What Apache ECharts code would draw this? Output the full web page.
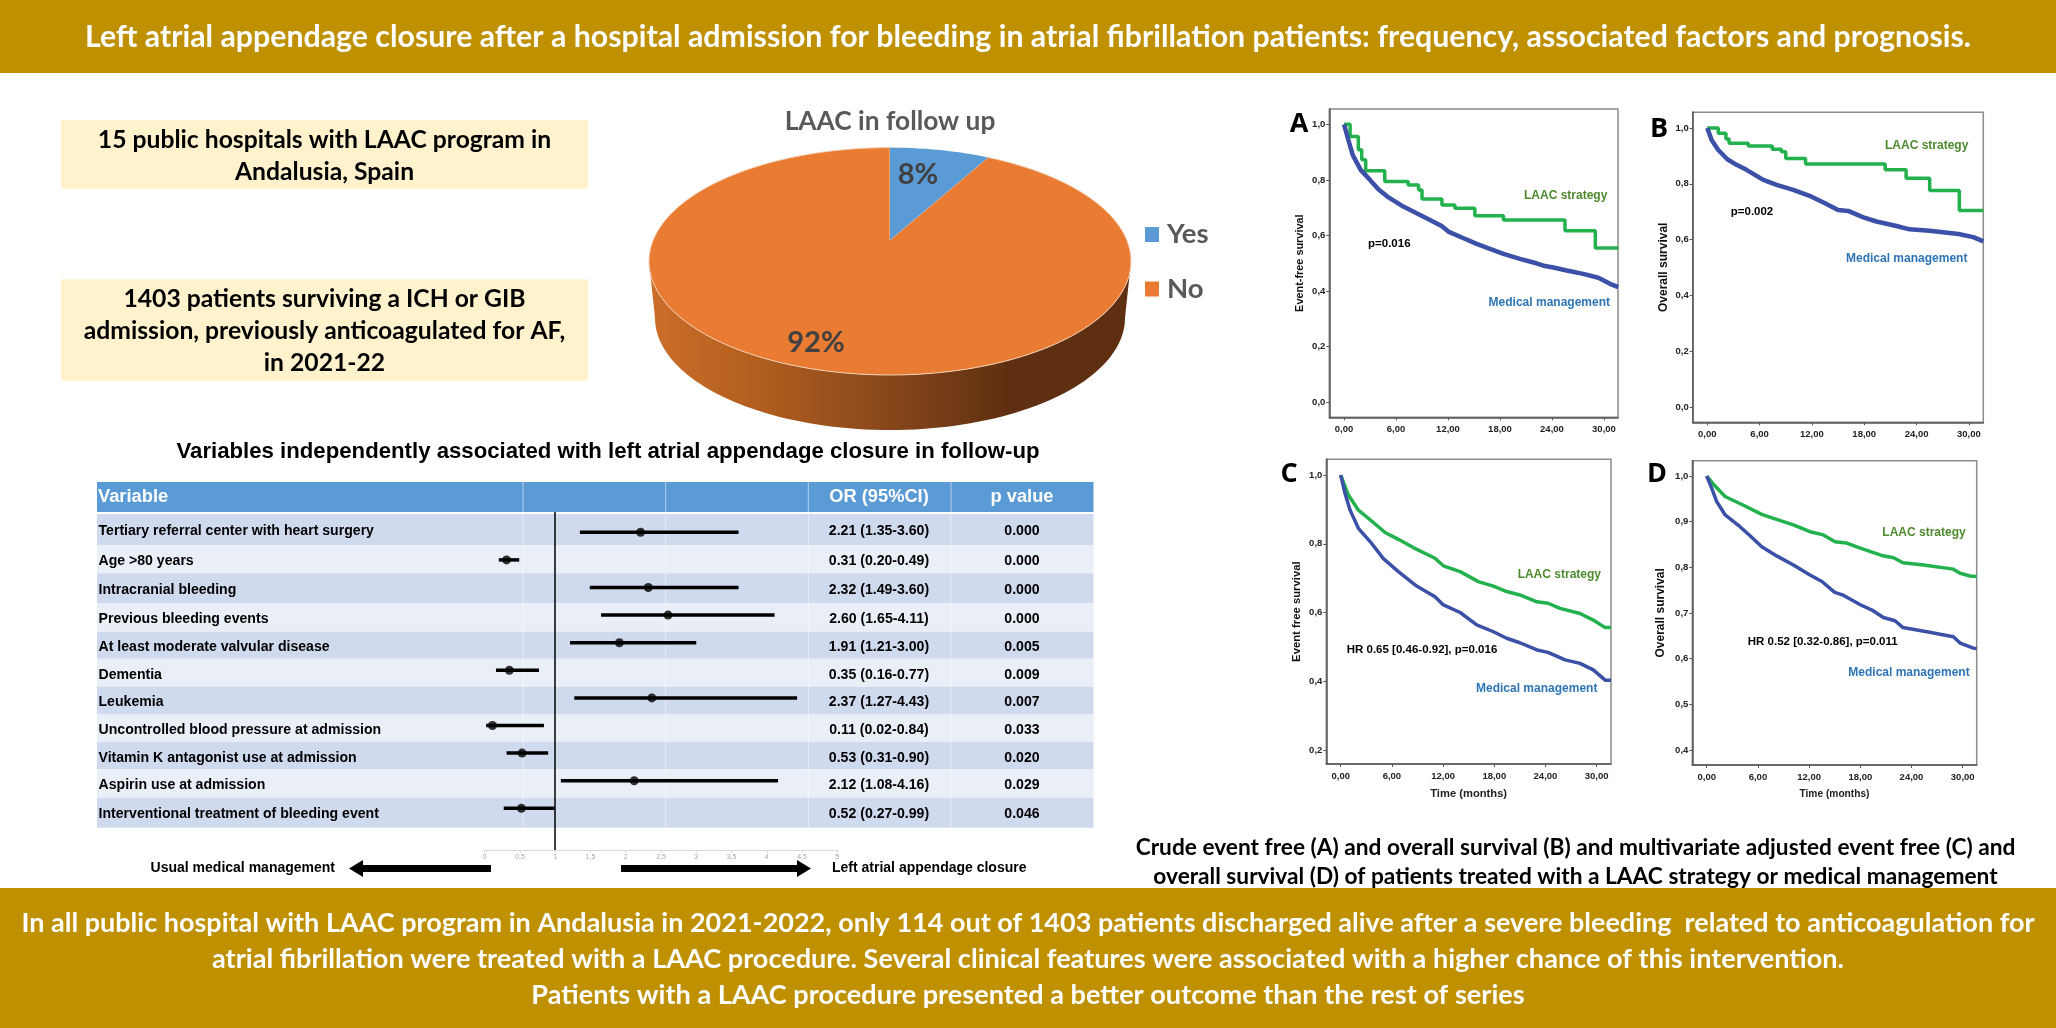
<!DOCTYPE html>
<html>
<head>
<meta charset="utf-8">
<title>LAAC after bleeding admission</title>
<script src="https://cdn.jsdelivr.net/npm/echarts@6/dist/echarts.min.js"></script>
<style>
  html, body { margin: 0; padding: 0; background: #fff; }
  #main { width: 2056px; height: 1028px; }
</style>
</head>
<body>
<div id="main"></div>
<script>
// pie
var pieNames = ['Yes', 'No'];
var pieValues = [8, 92];
var pieLabels = ['8%', '92%'];

// forest plot
var forestVariables = [
  'Tertiary referral center with heart surgery', 'Age >80 years', 'Intracranial bleeding',
  'Previous bleeding events', 'At least moderate valvular disease', 'Dementia', 'Leukemia',
  'Uncontrolled blood pressure at admission', 'Vitamin K antagonist use at admission',
  'Aspirin use at admission', 'Interventional treatment of bleeding event'
];
var forestOr = [2.21, 0.31, 2.32, 2.60, 1.91, 0.35, 2.37, 0.11, 0.53, 2.12, 0.52];
var forestLow = [1.35, 0.20, 1.49, 1.65, 1.21, 0.16, 1.27, 0.02, 0.31, 1.08, 0.27];
var forestHigh = [3.60, 0.49, 3.60, 4.11, 3.00, 0.77, 4.43, 0.84, 0.90, 4.16, 0.99];
var forestP = ['0.000', '0.000', '0.000', '0.000', '0.005', '0.009', '0.007', '0.033', '0.020', '0.029', '0.046'];

// survival curves, [months, survival]
var laacA = [[0,1],[0.7,0.956],[1.65,0.908],[2.04,0.872],[2.5,0.833],[4.7,0.794],[7.4,0.782],[8.6,0.764],[9,0.731],[11.3,0.71],[12.8,0.698],[15.1,0.671],[18.4,0.656],[25.5,0.617],[29,0.555],[31.65,0.555]];
var medA = [[0,1],[0.5,0.944],[1,0.89],[1.92,0.836],[3,0.8],[3.96,0.766],[5,0.74],[6.85,0.704],[8.38,0.68],[9.92,0.656],[11.27,0.634],[12.04,0.614],[13.8,0.59],[15.3,0.57],[16.85,0.552],[18.4,0.534],[20.3,0.516],[22.2,0.5],[23.2,0.49],[24.3,0.484],[25.7,0.474],[27.6,0.462],[29.35,0.448],[30.7,0.426],[31.65,0.414]];
var laacB = [[0,1],[1.26,0.981],[2.14,0.96],[2.5,0.945],[4.7,0.935],[7.45,0.924],[8.5,0.915],[9,0.891],[11.27,0.871],[20.4,0.85],[22.8,0.82],[25.5,0.776],[28.9,0.704],[31.65,0.704]];
var medB = [[0,1],[0.5,0.957],[1.26,0.921],[2.3,0.888],[3.36,0.868],[4.5,0.85],[5.46,0.832],[6.42,0.814],[7.95,0.796],[9.86,0.778],[11.96,0.754],[13.5,0.73],[15,0.706],[16.16,0.703],[17.9,0.68],[19.4,0.665],[21.7,0.649],[23.2,0.637],[25.5,0.632],[28.8,0.62],[30.5,0.609],[31.65,0.594]];
var laacC = [[0,1],[0.9,0.942],[2.07,0.898],[3.83,0.862],[5.2,0.833],[6.76,0.813],[8.5,0.789],[11.05,0.758],[12.03,0.736],[14,0.719],[16.13,0.69],[17.9,0.677],[19.45,0.661],[21,0.651],[23,0.631],[24.3,0.627],[25.7,0.612],[28.05,0.597],[29.6,0.578],[31,0.556],[31.68,0.556]];
var medC = [[0,1],[0.5,0.947],[1.1,0.898],[2.07,0.845],[3.63,0.801],[5,0.757],[6.76,0.719],[8.9,0.677],[11.05,0.646],[12.03,0.622],[14,0.6],[15.94,0.564],[17.9,0.544],[19.45,0.525],[21,0.512],[23,0.491],[24.3,0.484],[26.3,0.462],[28.05,0.452],[29.6,0.433],[31,0.403],[31.68,0.403]];
var laacD = [[0,1],[0.98,0.978],[2.15,0.955],[4.3,0.936],[6.45,0.916],[8,0.906],[10.16,0.893],[12.1,0.878],[13.67,0.871],[15.04,0.856],[16.4,0.853],[18,0.842],[20.5,0.826],[21.9,0.821],[23,0.81],[25.4,0.805],[28.9,0.796],[29.7,0.787],[30.86,0.781],[31.64,0.78]];
var medD = [[0,1],[0.59,0.973],[1.17,0.944],[2.15,0.915],[3.9,0.889],[5.08,0.869],[6.45,0.845],[8.2,0.825],[10.16,0.805],[12.1,0.783],[13.5,0.769],[15,0.745],[16,0.739],[18,0.718],[19.5,0.705],[20.7,0.69],[22.07,0.683],[23,0.668],[25.8,0.659],[28.9,0.648],[29.7,0.634],[31.25,0.623],[31.64,0.622]];

var monthTicks = [0, 6, 12, 18, 24, 30];
var yTicksAB = [0, 0.2, 0.4, 0.6, 0.8, 1];
var yTicksC = [0.2, 0.4, 0.6, 0.8, 1];
var yTicksD = [0.4, 0.5, 0.6, 0.7, 0.8, 0.9, 1];

var calibri = 'Lato, "Noto Sans", sans-serif';
var arial = '"Liberation Sans", Arial, sans-serif';
var GOLD = '#BF9000';
var GREEN = '#22B14C';
var BLUE = '#3B50A6';

var myChart = echarts.init(document.getElementById('main'));
var shapes = [];

function box(x, y, w, h, fill) {
  shapes.push({ type: 'rect', silent: true, z: 0, shape: { x: x, y: y, width: w, height: h }, style: { fill: fill } });
}
function txt(x, y, str, size, color, family, align, weight, rotation) {
  shapes.push({
    type: 'text', silent: true, z: 6, x: x, y: y, rotation: rotation || 0,
    style: {
      text: str, fill: color, align: align || 'center', verticalAlign: 'middle',
      font: (weight || 'bold') + ' ' + size + 'px ' + family
    }
  });
}

// banners
box(0, 0, 2056, 73, GOLD);
box(0, 888, 2056, 140, GOLD);
txt(1028, 37.5, 'Left atrial appendage closure after a hospital admission for bleeding in atrial fibrillation patients: frequency, associated factors and prognosis.', 30.3, '#fff', calibri);
txt(1028, 923.5, 'In all public hospital with LAAC program in Andalusia in 2021-2022, only 114 out of 1403 patients discharged alive after a severe bleeding  related to anticoagulation for', 27, '#fff', calibri);
txt(1028, 959.5, 'atrial fibrillation were treated with a LAAC procedure. Several clinical features were associated with a higher chance of this intervention.', 27.1, '#fff', calibri);
txt(1028, 995, 'Patients with a LAAC procedure presented a better outcome than the rest of series', 27.1, '#fff', calibri);

// yellow boxes
box(61, 120, 527, 68.7, '#FFF2CC');
box(61, 279.3, 527, 101.4, '#FFF2CC');
txt(324.5, 140, '15 public hospitals with LAAC program in', 24.7, '#000', calibri);
txt(324.5, 171.7, 'Andalusia, Spain', 24.7, '#000', calibri);
txt(324.5, 299.3, '1403 patients surviving a ICH or GIB', 24.7, '#000', calibri);
txt(324.5, 331, 'admission, previously anticoagulated for AF,', 24.7, '#000', calibri);
txt(324.5, 362.7, 'in 2021-22', 24.7, '#000', calibri);

// pie title
txt(890, 121.7, 'LAAC in follow up', 26.3, '#595959', calibri);

// forest table
var bandTops = [514, 545, 573.3, 603, 631.7, 658.7, 686.7, 714, 742, 769.3, 797.7];
var bandBottom = 827.7;
var textRows = [531, 560.7, 590, 619.3, 647, 674.7, 702, 730, 757.7, 785.3, 814.3];
txt(608, 452, 'Variables independently associated with left atrial appendage closure in follow-up', 22.2, '#000', arial);
box(97, 482, 996.5, 30, '#5B9BD5');
for (var i = 0; i < forestVariables.length; i++) {
  var nextTop = i + 1 < bandTops.length ? bandTops[i + 1] : bandBottom;
  box(97, bandTops[i], 996.5, nextTop - bandTops[i], i % 2 === 0 ? '#CFDAEE' : '#E9EEF7');
  txt(98.5, textRows[i], forestVariables[i], 14.1, '#000', arial, 'left');
  txt(879, textRows[i], forestOr[i].toFixed(2) + ' (' + forestLow[i].toFixed(2) + '-' + forestHigh[i].toFixed(2) + ')', 14.1, '#000', arial);
  txt(1022, textRows[i], forestP[i], 14.1, '#000', arial);
}
[523, 665.7, 808.3, 951].forEach(function (x) {
  shapes.push({ type: 'line', silent: true, z: 1, shape: { x1: x, y1: 482, x2: x, y2: bandBottom }, style: { stroke: 'rgba(255,255,255,0.55)', lineWidth: 1 } });
});
txt(98, 497, 'Variable', 18.3, '#fff', arial, 'left');
txt(879, 497, 'OR (95%CI)', 18.3, '#fff', arial);
txt(1022, 497, 'p value', 18.3, '#fff', arial);

// arrows under the forest plot
shapes.push({ type: 'polygon', silent: true, z: 1, shape: { points: [[491,865],[363,865],[363,860],[349,868.5],[363,877],[363,872],[491,872]] }, style: { fill: '#000' } });
shapes.push({ type: 'polygon', silent: true, z: 1, shape: { points: [[621,865],[797,865],[797,860],[811,868.5],[797,877],[797,872],[621,872]] }, style: { fill: '#000' } });
txt(335, 868, 'Usual medical management', 14, '#000', arial, 'right');
txt(832, 868, 'Left atrial appendage closure', 14, '#000', arial, 'left');

// caption of the survival panels
txt(1575.5, 848, 'Crude event free (A) and overall survival (B) and multivariate adjusted event free (C) and', 22.7, '#000', calibri);
txt(1575.5, 877, 'overall survival (D) of patients treated with a LAAC strategy or medical management', 22.7, '#000', calibri);

// panel letters and notes
var LETTER = '"Open Sans", sans-serif';
txt(1299, 124, 'A', 27, '#000', LETTER);
txt(1659, 129, 'B', 27, '#000', LETTER);
txt(1289, 474, 'C', 27, '#000', LETTER);
txt(1657, 474, 'D', 27, '#000', LETTER);
var NOTE_GREEN = '#4E8A2E';
var NOTE_BLUE = '#2E75B6';
txt(1565.7, 195.3, 'LAAC strategy', 12, NOTE_GREEN, arial);
txt(1549.3, 303, 'Medical management', 12, NOTE_BLUE, arial);
txt(1389.3, 243.7, 'p=0.016', 11.5, '#000', arial);
txt(1926.7, 146, 'LAAC strategy', 12, NOTE_GREEN, arial);
txt(1906.7, 258.3, 'Medical management', 12, NOTE_BLUE, arial);
txt(1752, 211.7, 'p=0.002', 11.5, '#000', arial);
txt(1559.3, 575, 'LAAC strategy', 12, NOTE_GREEN, arial);
txt(1536.7, 689, 'Medical management', 12, NOTE_BLUE, arial);
txt(1422, 650, 'HR 0.65 [0.46-0.92], p=0.016', 11.5, '#000', arial);
txt(1924, 532.3, 'LAAC strategy', 12, NOTE_GREEN, arial);
txt(1909, 672.3, 'Medical management', 12, NOTE_BLUE, arial);
txt(1822.7, 642.3, 'HR 0.52 [0.32-0.86], p=0.011', 11.5, '#000', arial);

// tilted pie: slices are mapped on an ellipse with the apex moved towards the viewer
var PIE = { cx: 890, cy: 261.3, rx: 241, ry: 113.7, apex: 0.187 };
var pieTotal = pieValues[0] + pieValues[1];
function piePoint(t) {
  var u = Math.sin(t), v = Math.cos(t), d = 1 + PIE.apex * v;
  return [PIE.cx + PIE.rx * u * Math.sqrt(1 - PIE.apex * PIE.apex) / d, PIE.cy - PIE.ry * (v + PIE.apex) / d];
}
function slicePoints(startShare, share) {
  var pts = [[PIE.cx, PIE.cy - PIE.ry * PIE.apex]];
  var steps = Math.max(8, Math.round(share * 180));
  for (var k = 0; k <= steps; k++) {
    pts.push(piePoint((startShare + share * k / steps) * 2 * Math.PI));
  }
  return pts;
}
function wallPoints() {
  var pts = [], k, a;
  for (k = 0; k <= 90; k++) {
    a = Math.PI * k / 90;
    pts.push([PIE.cx + PIE.rx * Math.cos(a), PIE.cy + PIE.ry * Math.sin(a)]);
  }
  for (k = 90; k >= 0; k--) {
    a = Math.PI * k / 90;
    pts.push([PIE.cx + 235 * Math.cos(a), 318 + 112 * Math.sin(a)]);
  }
  return pts;
}
var wallFill = new echarts.graphic.LinearGradient(0, 0, 1, 0, [
  { offset: 0, color: '#CC6E2A' },
  { offset: 0.2, color: '#B5601F' },
  { offset: 0.5, color: '#87471B' },
  { offset: 0.75, color: '#5E2F10' },
  { offset: 1, color: '#5E2F10' }
]);
function renderPie(params, api) {
  var idx = params.seriesIndex;
  var share = api.value(0) / pieTotal;
  var start = idx === 0 ? 0 : pieValues[0] / pieTotal;
  var children = [];
  if (idx === 1) {
    children.push({ type: 'polygon', shape: { points: wallPoints() }, style: { fill: wallFill } });
  }
  children.push({
    type: 'polygon', shape: { points: slicePoints(start, share) },
    style: { fill: api.visual('color'), stroke: idx === 1 ? '#F2CFB2' : null, lineWidth: 1 }
  });
  children.push({
    type: 'text', x: idx === 0 ? 918 : 816, y: idx === 0 ? 175 : 343,
    style: { text: pieLabels[idx], fill: '#404040', align: 'center', verticalAlign: 'middle', font: 'bold 29px ' + calibri }
  });
  return { type: 'group', children: children };
}

// grids: forest first, then the four survival panels
var grids = [{ left: 484.7, top: 512, width: 352.6, height: 338 }];
var xAxes = [{
  type: 'value', gridIndex: 0, min: 0, max: 5, interval: 0.5,
  axisLine: { onZero: false, lineStyle: { color: '#d9d9d9', width: 1 } },
  axisTick: { length: 3, lineStyle: { color: '#d9d9d9' } },
  axisLabel: { fontSize: 7, color: '#a6a6a6', margin: 4, fontFamily: arial, formatter: function (v) { return String(v).replace('.', ','); } },
  splitLine: { show: false }
}];
var yAxes = [{ type: 'value', gridIndex: 0, inverse: true, min: -0.735, max: 11.51, show: false, splitLine: { show: false } }];

var series = [
  { name: pieNames[0], type: 'custom', coordinateSystem: 'none', renderItem: renderPie, data: [[pieValues[0]]], itemStyle: { color: '#5B9BD5' }, silent: true, z: 4 },
  { name: pieNames[1], type: 'custom', coordinateSystem: 'none', renderItem: renderPie, data: [[pieValues[1]]], itemStyle: { color: '#E97B32' }, silent: true, z: 3 },
  {
    name: 'CI', type: 'custom', xAxisIndex: 0, yAxisIndex: 0, silent: true,
    data: forestLow.map(function (v, i) { return [v, forestHigh[i], i]; }),
    renderItem: function (params, api) {
      var a = api.coord([api.value(0), api.value(2)]);
      var b = api.coord([api.value(1), api.value(2)]);
      return { type: 'line', shape: { x1: a[0], y1: a[1], x2: b[0], y2: b[1] }, style: { stroke: '#000', lineWidth: 3.5 } };
    }
  },
  {
    name: 'OR', type: 'scatter', xAxisIndex: 0, yAxisIndex: 0, silent: true, symbolSize: 9,
    itemStyle: { color: '#000' },
    data: forestOr.map(function (v, i) { return [v, i]; }),
    markLine: { silent: true, symbol: 'none', label: { show: false }, lineStyle: { color: '#000', width: 1.5, type: 'solid' }, data: [{ xAxis: 1 }] }
  }
];

function addPanel(frame, xRange, yRange, yTicks, yName, yNameSize, nameGap, timeSize, blueWidth, laac, med) {
  var n = grids.length;
  grids.push({ left: frame[0], top: frame[1], width: frame[2] - frame[0], height: frame[3] - frame[1], show: true, backgroundColor: 'transparent', borderColor: '#8c8c8c', borderWidth: 1.5 });
  var line = { onZero: false, lineStyle: { color: '#555', width: 1.5 } };
  xAxes.push({
    type: 'value', gridIndex: n, min: xRange[0], max: xRange[1], splitLine: { show: false },
    axisLine: line,
    axisTick: { customValues: monthTicks, length: 3, lineStyle: { color: '#555' } },
    axisLabel: { customValues: monthTicks, fontSize: 9.5, fontWeight: 'bold', color: '#222', fontFamily: arial, margin: 7, formatter: function (v) { return v.toFixed(2).replace('.', ','); } },
    name: timeSize ? 'Time (months)' : '', nameLocation: 'middle', nameGap: 24,
    nameTextStyle: { fontSize: timeSize, fontWeight: 'bold', color: '#222', fontFamily: arial }
  });
  yAxes.push({
    type: 'value', gridIndex: n, min: yRange[0], max: yRange[1], splitLine: { show: false },
    axisLine: line,
    axisTick: { customValues: yTicks, length: 3, lineStyle: { color: '#555' } },
    axisLabel: { customValues: yTicks, fontSize: 9.5, fontWeight: 'bold', color: '#222', fontFamily: arial, margin: 4, formatter: function (v) { return v.toFixed(1).replace('.', ','); } },
    name: yName, nameLocation: 'middle', nameGap: nameGap,
    nameTextStyle: { fontSize: yNameSize, fontWeight: 'bold', color: '#111', fontFamily: arial }
  });
  series.push({
    name: 'LAAC strategy', type: 'line', xAxisIndex: n, yAxisIndex: n, data: laac, showSymbol: false, silent: true,
    step: laac.length < 17 ? 'end' : false, lineStyle: { color: GREEN, width: 3.5 }, z: 2
  });
  series.push({
    name: 'Medical management', type: 'line', xAxisIndex: n, yAxisIndex: n, data: med, showSymbol: false, silent: true,
    lineStyle: { color: BLUE, width: blueWidth }, z: 3
  });
}
addPanel([1329.3, 109, 1618, 417.3], [-1.7, 31.62], [-0.054, 1.055], yTicksAB, 'Event-free survival', 10.9, 24, 0, 4.5, laacA, medA);
addPanel([1692.7, 112.3, 1983.3, 422.3], [-1.67, 31.65], [-0.054, 1.056], yTicksAB, 'Overall survival', 12, 23, 0, 4.5, laacB, medB);
addPanel([1326.3, 459.3, 1611, 764], [-1.69, 31.68], [0.159, 1.046], yTicksC, 'Event free survival', 11.3, 24, 11.2, 3.5, laacC, medC);
addPanel([1692.3, 460.7, 1976.7, 765], [-1.69, 31.64], [0.367, 1.0335], yTicksD, 'Overall survival', 12, 26, 10.2, 3.5, laacD, medD);

var option = {
  animation: false,
  backgroundColor: '#fff',
  legend: {
    data: pieNames, orient: 'vertical', left: 1145, top: 220.5, padding: 0, itemWidth: 14, itemHeight: 15, itemGap: 26.5, selectedMode: false,
    icon: 'rect', textStyle: { fontSize: 27.5, fontWeight: 'bold', color: '#595959', fontFamily: calibri, padding: [0, 0, 0, 3] }
  },
  grid: grids,
  xAxis: xAxes,
  yAxis: yAxes,
  graphic: { elements: shapes },
  series: series
};
myChart.setOption(option);
</script>
</body>
</html>
